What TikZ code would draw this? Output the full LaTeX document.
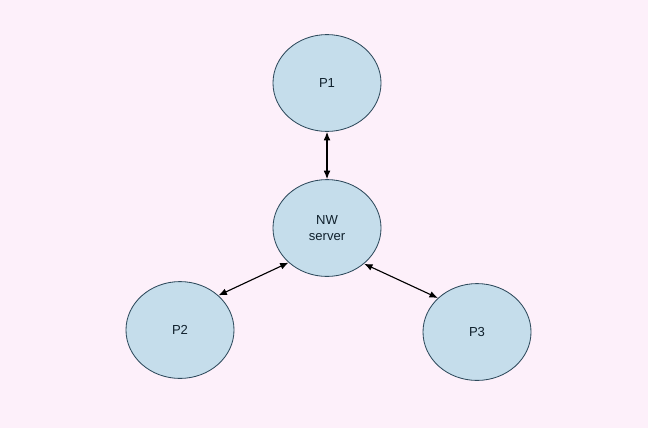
\documentclass[tikz,border=0pt]{standalone}
\usepackage{fontspec}
\setmainfont{Liberation Sans}
\usepackage{tikz}
\usetikzlibrary{shapes.geometric}
\usetikzlibrary{arrows.meta}
\definecolor{bgpink}{HTML}{FDF0FA}
\definecolor{procfill}{HTML}{C5DDEB}
\definecolor{procline}{HTML}{2E4A5C}
\definecolor{proctext}{HTML}{10202C}

\begin{document}
\begin{tikzpicture}[x=0.025cm,y=-0.025cm]
\tikzset{proc/.style={draw=procline,line width=0.6pt,fill=procfill,ellipse,inner sep=0pt,minimum width=2.7cm,minimum height=2.42cm,align=center,text=proctext,font=\fontsize{9.3}{11.5}\selectfont},
link/.style={{Latex[length=6pt,width=4.8pt]}-{Latex[length=6pt,width=4.8pt]},line width=0.8pt,black}}
\fill[bgpink] (0,0) rectangle (648,428);
\node (p1) at (327,83) [proc] {P1};
\node (nw) at (327,228) [proc] {NW\\server};
\node (p2) at (180,330) [proc] {P2};
\node (p3) at (477,332) [proc] {P3};

\path
(p1) edge [link] (nw)
(nw.222) edge [link] (p2.42)
(nw.316) edge [link] (p3.139);
\end{tikzpicture}
\end{document}
